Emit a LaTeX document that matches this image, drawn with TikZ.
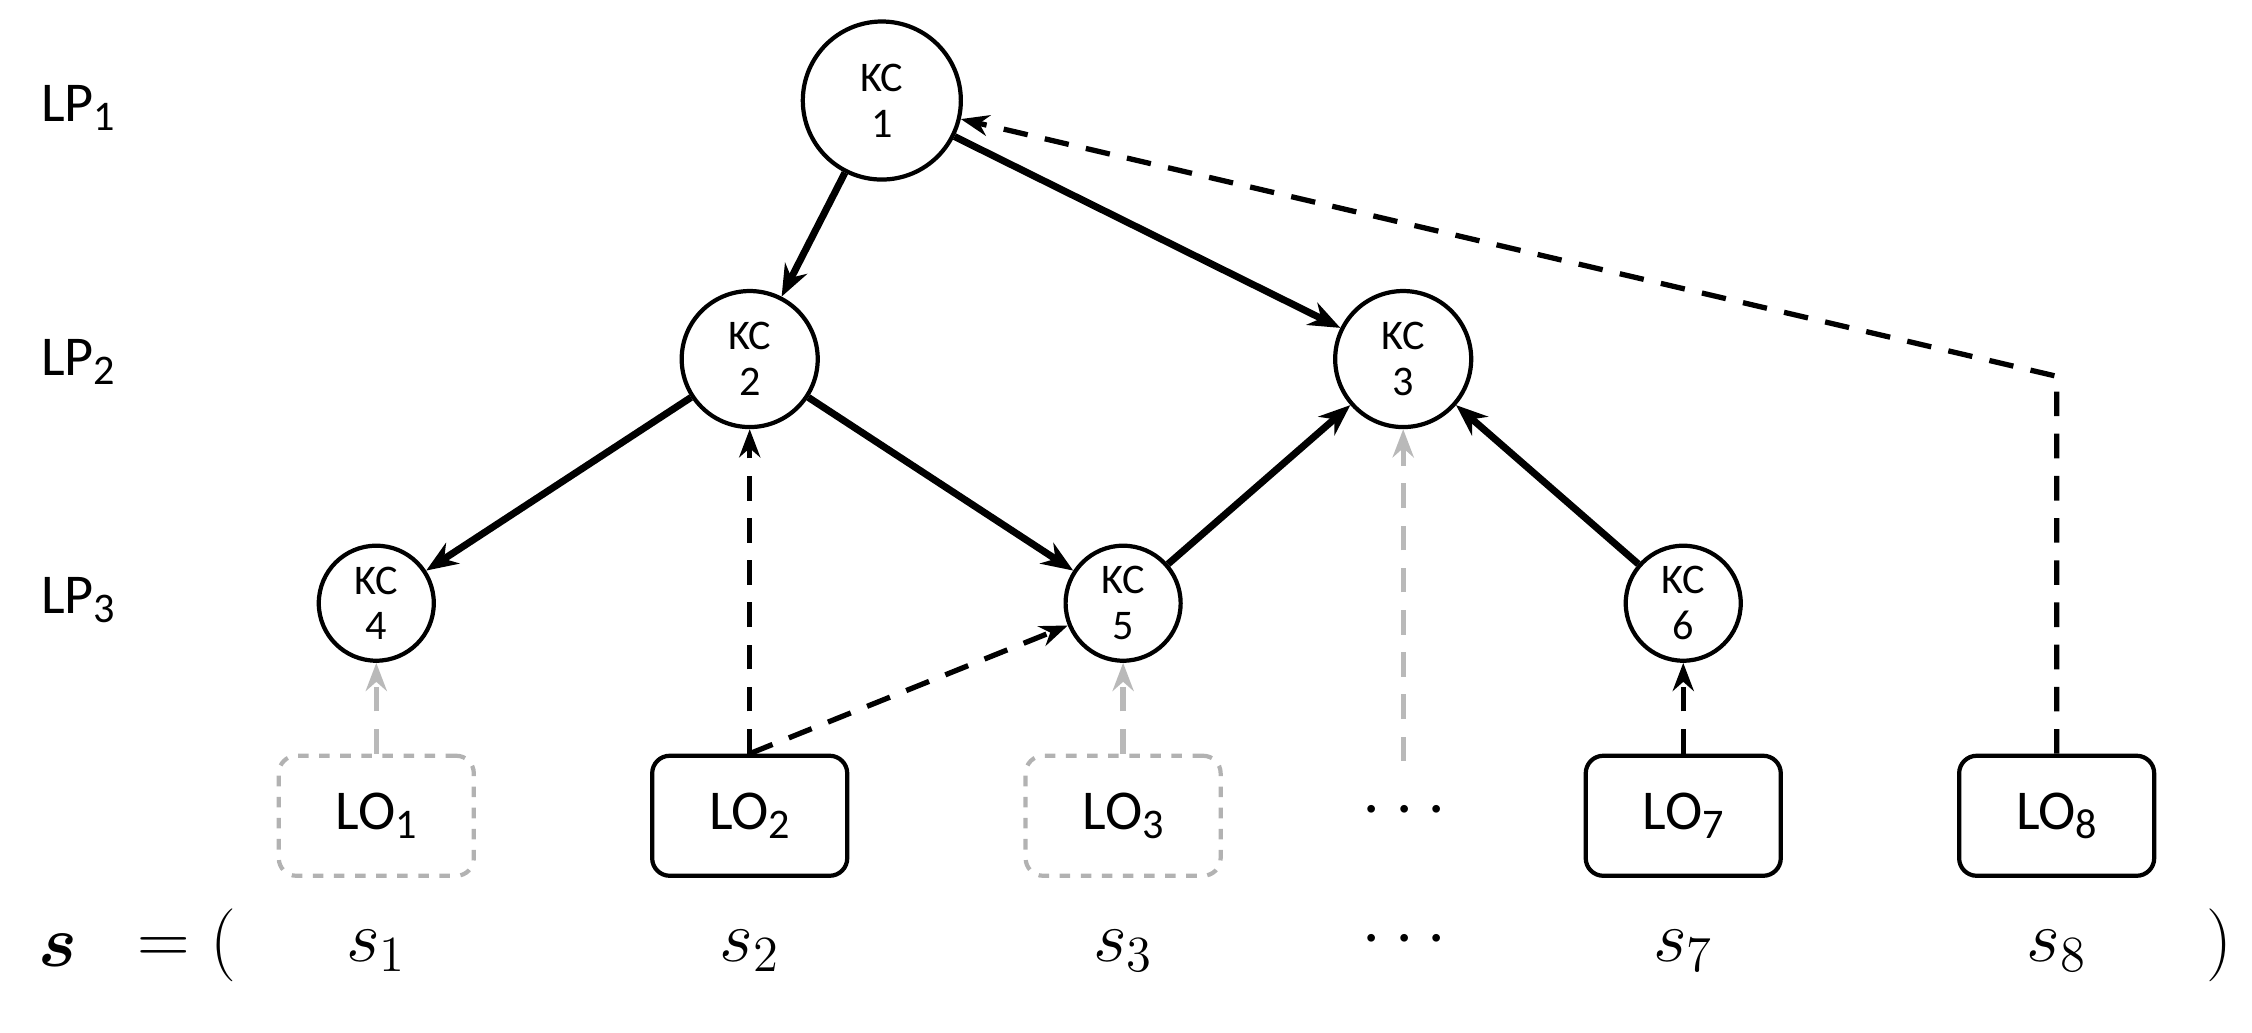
\documentclass[tikz,border=0pt]{standalone}
\usepackage{amsmath,bm}
\usepackage{fontspec}
\setmainfont{Carlito}
\usetikzlibrary{arrows.meta}
\newcommand{\sub}[1]{\raisebox{-0.35ex}{\fontsize{12}{12}\selectfont #1}}
\begin{document}
\begin{tikzpicture}[x=0.01436cm,y=-0.01436cm,
  kc/.style={draw,circle,line width=1.2pt,align=center,font=\fontsize{12}{13}\selectfont,inner sep=0pt},
  lo/.style={draw,rounded corners=5pt,line width=1.2pt,minimum width=1.95cm,minimum height=1.2cm,font=\fontsize{16}{16}\selectfont},
  ghost/.style={lo,draw=gray!60,dashed},
  lp/.style={font=\fontsize{16}{16}\selectfont,anchor=west},
  sl/.style={font=\fontsize{22}{22}\selectfont},
  arr/.style={-{Stealth[length=9pt,width=7pt]},line width=2pt},
  darr/.style={-{Stealth[length=8pt,width=6pt]},line width=1.5pt,dashed,dash pattern=on 7pt off 5pt},
  garr/.style={darr,draw=gray!55}]
\useasboundingbox (0,0) rectangle (1568,719);
\node[lp] (lp1) at (20,75) {LP\sub{1}};
\node[lp] (lp2) at (20,252) {LP\sub{2}};
\node[lp] (lp3) at (20,418) {LP\sub{3}};

\node[kc,minimum size=1.58cm] (k1) at (614,70) {KC\\1};
\node[kc,minimum size=1.36cm] (k2) at (522,250) {KC\\2};
\node[kc,minimum size=1.36cm] (k3) at (977,250) {KC\\3};
\node[kc,minimum size=1.15cm] (k4) at (262,420) {KC\\4};
\node[kc,minimum size=1.15cm] (k5) at (782,420) {KC\\5};
\node[kc,minimum size=1.15cm] (k6) at (1172,420) {KC\\6};

\node[ghost] (o1) at (262,568) {LO\sub{1}};
\node[lo] (o2) at (522,568) {LO\sub{2}};
\node[ghost] (o3) at (782,568) {LO\sub{3}};
\node[font=\fontsize{22}{22}\selectfont] (od) at (982,565) {$\cdots$};
\node[lo] (o7) at (1172,568) {LO\sub{7}};
\node[lo] (o8) at (1432,568) {LO\sub{8}};

\draw[arr] (k1) -- (k2);
\draw[arr] (k1) -- (k3);
\draw[arr] (k2) -- (k4);
\draw[arr] (k2) -- (k5);
\draw[arr] (k5) -- (k3);
\draw[arr] (k6) -- (k3);

\draw[garr] (o1) -- (k4);
\draw[garr] (o3) -- (k5);
\coordinate (dtop) at (977,530);
\draw[garr] (dtop) -- (k3);
\draw[darr] (o2.north) -- (k2);
\draw[darr] (o2.north) -- (k5);
\draw[darr] (o7) -- (k6);
\coordinate (bend) at (1432,262);
\draw[darr] (o8.north) -- (bend) -- (k1);

\node[sl] (s) at (40,662) {$\bm{s}$};
\node[sl] (eq) at (130,658) {$=($};
\node[sl] (s1) at (262,662) {$s_1$};
\node[sl] (s2) at (522,662) {$s_2$};
\node[sl] (s3) at (782,662) {$s_3$};
\node[sl] (sd) at (982,655) {$\cdots$};
\node[sl] (s7) at (1172,662) {$s_7$};
\node[sl] (s8) at (1432,662) {$s_8$};
\node[sl] (cl) at (1545,658) {$)$};
\end{tikzpicture}
\end{document}
